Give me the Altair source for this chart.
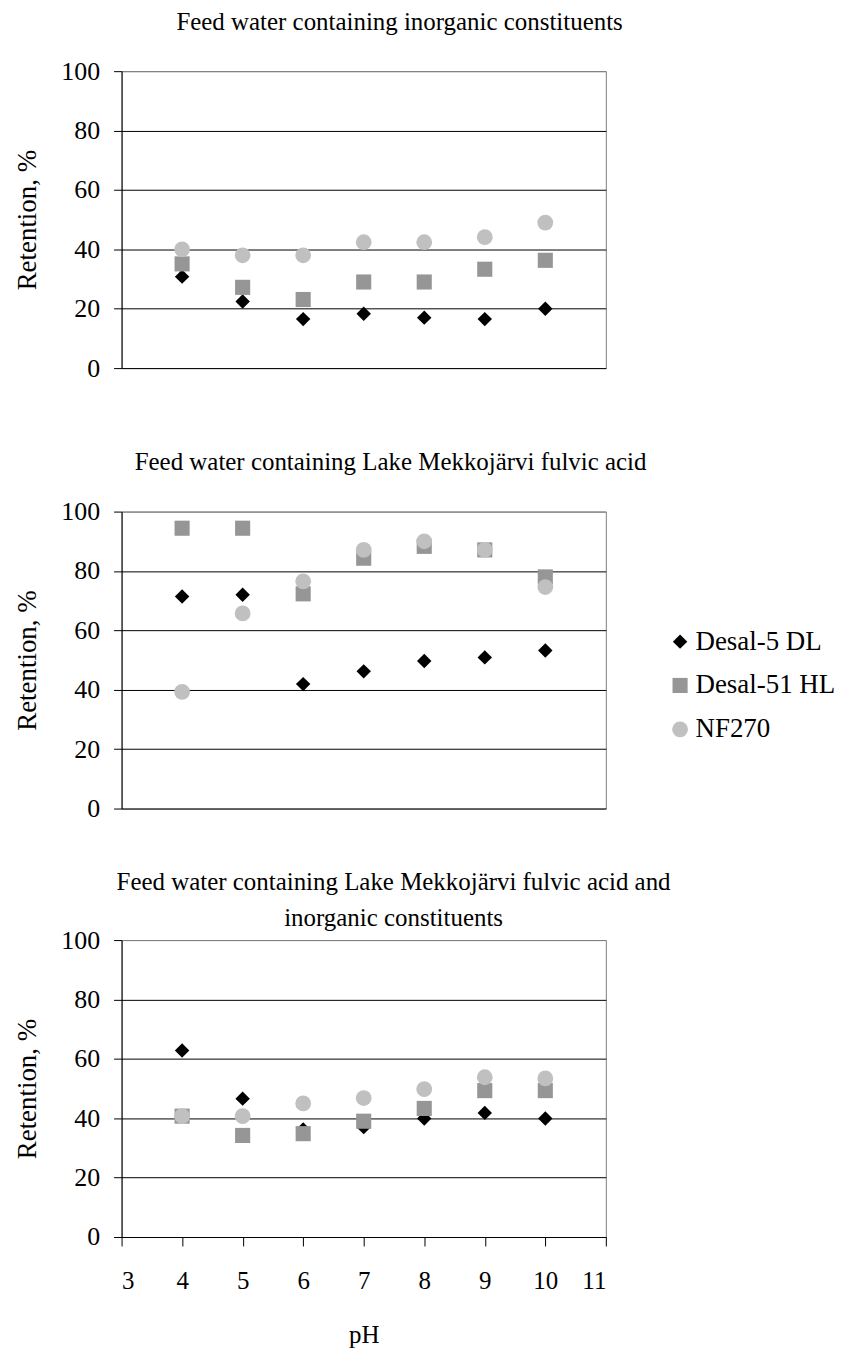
import altair as alt
import pandas as pd

series = ["Desal-5 DL", "Desal-51 HL", "NF270"]
ph = [4, 5, 6, 7, 8, 9, 10]

p1_desal5 = [30.8, 22.4, 16.5, 18.3, 17.0, 16.5, 20.0]
p1_desal51 = [35.1, 27.2, 23.1, 29.0, 29.0, 33.3, 36.3]
p1_nf270 = [40.0, 38.0, 38.0, 42.4, 42.4, 44.1, 49.0]

p2_desal5 = [71.4, 72.0, 41.9, 46.2, 49.7, 50.9, 53.2]
p2_desal51 = [94.4, 94.4, 72.3, 84.3, 88.3, 87.1, 78.0]
p2_nf270 = [39.3, 65.7, 76.5, 87.1, 90.0, 87.1, 74.6]

p3_desal5 = [62.8, 46.6, 36.2, 37.0, 39.9, 41.8, 39.9]
p3_desal51 = [40.7, 34.2, 34.8, 39.0, 43.3, 49.3, 49.3]
p3_nf270 = [40.7, 40.7, 45.0, 46.8, 49.8, 53.8, 53.4]

titles = [
    "Feed water containing inorganic constituents",
    "Feed water containing Lake Mekkojärvi fulvic acid",
    ["Feed water containing Lake Mekkojärvi fulvic acid and", "inorganic constituents"],
]
x_ticks = [3, 4, 5, 6, 7, 8, 9, 10, 11]
y_ticks = [0, 20, 40, 60, 80, 100]

FONT = "Liberation Serif"
W, H = 486, 298

LEG = alt.Legend(title=None, orient="none", legendX=547, legendY=559)


def panel(title, d5, d51, nf, bottom, offset, dx):
    rows = []
    for name, vals in zip(series, [d5, d51, nf]):
        for p, v in zip(ph, vals):
            rows.append({"pH": p, "Retention": v, "Membrane": name})
    df = pd.DataFrame(rows)
    if bottom:
        xaxis = alt.Axis(values=x_ticks, title="pH", grid=False, domainColor="black",
                         tickColor="black", tickSize=9, labelPadding=23, titlePadding=29,
                         labelFontSize=25, titleFontSize=25)
    else:
        xaxis = None
    yaxis = alt.Axis(values=y_ticks, title="Retention, %", tickSize=8, labelPadding=14,
                     titlePadding=19, domainColor="black", tickColor="black",
                     gridColor=alt.condition("datum.value == 100", alt.value("#808080"), alt.value("#000000")),
                     labelFontSize=26, titleFontSize=27)
    return alt.Chart(df).mark_point(filled=True, opacity=1).encode(
        x=alt.X("pH:Q", scale=alt.Scale(domain=[3, 11], nice=False, zero=False), axis=xaxis),
        y=alt.Y("Retention:Q", scale=alt.Scale(domain=[0, 100], nice=False), axis=yaxis),
        shape=alt.Shape("Membrane:N", scale=alt.Scale(domain=series, range=["diamond", "square", "circle"]), legend=LEG),
        color=alt.Color("Membrane:N", scale=alt.Scale(domain=series, range=["#000000", "#969696", "#c0c0c0"]), legend=LEG),
        size=alt.Size("Membrane:N", scale=alt.Scale(domain=series, range=[210, 250, 250]), legend=None),
    ).properties(
        width=W, height=H,
        title=alt.TitleParams(text=title, fontSize=25, font=FONT, fontWeight="normal", color="black",
                              anchor="middle", dx=dx, offset=offset, lineHeight=36),
    )


c1 = panel(titles[0], p1_desal5, p1_desal51, p1_nf270, False, 23, 36)
c2 = panel(titles[1], p2_desal5, p2_desal51, p2_nf270, False, 24, 27)
c3 = panel(titles[2], p3_desal5, p3_desal51, p3_nf270, True, -4, 30)

top_pair = alt.vconcat(c1, c2, spacing=67)
chart = alt.vconcat(top_pair, c3, spacing=47).properties(
    padding={"left": 13, "top": 7, "right": 5, "bottom": 5},
    background="white",
).configure_view(
    stroke="#808080", strokeWidth=1
).configure_axis(
    labelFont=FONT, titleFont=FONT, labelColor="black", titleColor="black",
    titleFontWeight="normal", domainWidth=1, tickWidth=1, gridWidth=1,
).configure_legend(
    labelFont=FONT, labelFontSize=27, labelColor="black", symbolSize=150,
    rowPadding=16, labelOffset=2, symbolStrokeWidth=0,
)

chart.save("out.html", embed_options={"renderer": "svg", "actions": False})
